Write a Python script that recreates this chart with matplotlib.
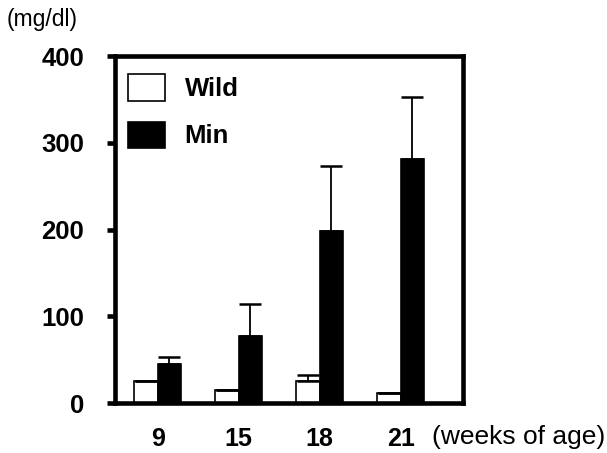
import matplotlib
matplotlib.use('Agg')
import matplotlib.pyplot as plt
import numpy as np

plt.rcParams['font.family'] = ['Liberation Sans', 'DejaVu Sans']

# --- data ---
weeks = ['9', '15', '18', '21']
wild_mean = [25, 15, 25, 12]
wild_err = [0, 0, 8, 0]
min_mean = [45, 78, 199, 282]
min_err = [8, 36, 74, 71]

fig = plt.figure(figsize=(6.07, 4.53), dpi=100)
ax = fig.add_axes([0.189, 0.110, 0.574, 0.766])

x = np.arange(len(weeks))
w = 0.29
err_style = dict(ecolor='black', elinewidth=1.3, capsize=8, capthick=1.8)

b1 = ax.bar(x - w / 2, wild_mean, w, color='white', edgecolor='black', linewidth=1.2,
            yerr=[np.zeros(len(x)), wild_err], error_kw=err_style, label='Wild')
b2 = ax.bar(x + w / 2, min_mean, w, color='black', edgecolor='black', linewidth=1.2,
            yerr=[np.zeros(len(x)), min_err], error_kw=err_style, label='Min')

ax.set_xlim(-0.53, 3.77)
ax.set_ylim(0, 400)
ax.set_yticks([0, 100, 200, 300, 400])
ax.set_xticks(x)
ax.set_xticklabels(weeks)

for s in ax.spines.values():
    s.set_linewidth(3.3)

ax.tick_params(axis='y', direction='out', length=6, width=3.3, pad=16,
               labelsize=18.5)
ax.tick_params(axis='x', length=0, pad=17, labelsize=18)
for lab in ax.get_xticklabels() + ax.get_yticklabels():
    lab.set_fontweight('bold')

leg = ax.legend(loc='upper left', bbox_to_anchor=(0.0, 0.985), frameon=False,
                handlelength=1.44, handleheight=1.2, labelspacing=0.8,
                handletextpad=0.78, borderpad=0.4, borderaxespad=0.1,
                prop={'weight': 'bold', 'size': 18.5})

fig.text(0.011, 0.956, '(mg/dl)', fontsize=16.5, ha='left', va='center')
fig.text(0.712, 0.035, '(weeks of age)', fontsize=19, ha='left', va='center')

plt.savefig('out.png', dpi=100)
